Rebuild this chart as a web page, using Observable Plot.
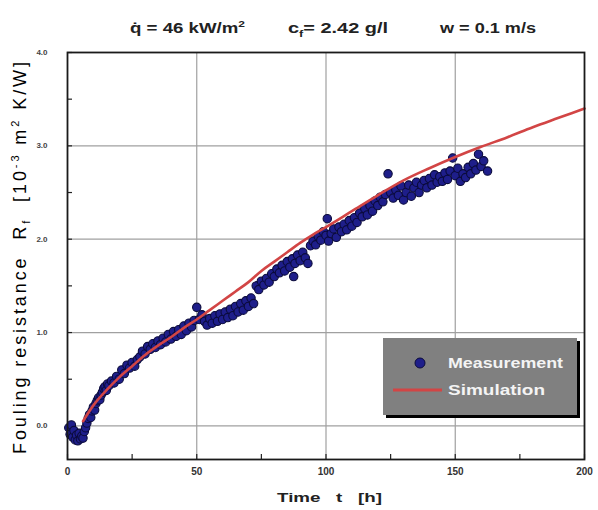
<!DOCTYPE html>
<html><head><meta charset="utf-8">
<script src="https://cdn.jsdelivr.net/npm/d3@7"></script>
<script src="https://cdn.jsdelivr.net/npm/@observablehq/plot@0.6"></script>
<style>
body{margin:0;background:#fff;}
#chart{position:relative;width:598px;height:510px;}
</style>
</head><body><div id="chart"></div>
<script>
// Measurement: time [h] and fouling resistance [10^-3 m2 K/W]
const measT = [0.5,1,1.5,2,2.5,3,3.5,4,4.5,5,5.5,6,6.5,7,7.5,8,8.5,9,9.5,10,10.5,11,11.5,12,12.5,13,13.5,14,14.5,15,15.5,16,17,18,19,20,21,22,23,24,25,26,27,28,29,30,31,32,33,34,35,36,37,38,39,40,41,42,43,44,45,46,47,48,49,50,51,52,53,54,55,56,57,58,59,60,61,62,63,64,65,66,67,68,69,70,71,72,73,74,75,76,77,78,79,80,81,82,83,84,85,86,87,87.5,88,89,90,91,92,93,94,95,96,97,98,99,100,100.5,101,102,103,104,105,106,107,108,109,110,111,112,113,114,115,116,117,118,119,120,121,122,123,124,125,126,127,128,129,130,131,132,133,134,135,136,137,138,139,140,141,142,143,144,145,146,147,148,149,150,151,152,153,154,155,156,157,158,159,160,161,162.5];
const measR = [-0.02,-0.09,0.01,-0.12,-0.05,-0.15,-0.1,-0.16,-0.08,-0.14,-0.11,-0.13,-0.06,-0.02,0.03,0.08,0.12,0.09,0.16,0.2,0.17,0.24,0.27,0.3,0.28,0.33,0.36,0.4,0.42,0.38,0.45,0.43,0.48,0.46,0.53,0.5,0.6,0.56,0.65,0.62,0.68,0.64,0.71,0.74,0.8,0.77,0.85,0.82,0.88,0.84,0.91,0.87,0.94,0.9,0.98,0.93,1.01,0.96,1.03,0.98,1.07,1.02,1.1,1.06,1.13,1.27,1.14,1.19,1.12,1.08,1.15,1.1,1.18,1.12,1.2,1.14,1.22,1.16,1.25,1.18,1.28,1.22,1.31,1.24,1.34,1.28,1.37,1.31,1.5,1.46,1.55,1.51,1.58,1.54,1.63,1.6,1.68,1.64,1.72,1.66,1.76,1.7,1.79,1.6,1.74,1.83,1.77,1.86,1.8,1.74,1.93,1.98,1.94,2.03,1.99,2.08,2.04,2.22,1.98,2.06,2.11,2.02,2.13,2.08,2.16,2.1,2.2,2.14,2.23,2.18,2.28,2.24,2.33,2.26,2.36,2.3,2.41,2.36,2.45,2.4,2.48,2.7,2.5,2.44,2.53,2.47,2.57,2.42,2.5,2.58,2.46,2.55,2.61,2.5,2.58,2.63,2.55,2.65,2.58,2.69,2.61,2.67,2.62,2.71,2.64,2.73,2.87,2.68,2.76,2.62,2.7,2.66,2.77,2.7,2.81,2.74,2.91,2.78,2.84,2.73];
// Simulation curve
const simT = [6,10,15,20,25,30,35,40,45,50,55,60,65,70,75,80,85,90,95,100,110,120,130,140,150,160,170,180,190,200];
const simR = [0.05,0.22,0.38,0.52,0.64,0.76,0.86,0.95,1.05,1.14,1.24,1.34,1.44,1.54,1.66,1.76,1.86,1.96,2.05,2.13,2.3,2.47,2.63,2.76,2.88,2.99,3.09,3.2,3.3,3.4];
// Axis ticks
const xTicks = [0,50,100,150,200];
const xMinor = [0,25,50,75,100,125,150,175,200];
const yTicks = [0,1,2,3,4];
const yMinor = [0,0.5,1,1.5,2,2.5,3,3.5,4];

const meas = measT.map((t,i)=>({t, r: measR[i]}));
const sim = simT.map((t,i)=>({t, r: simR[i]}));

const plot = Plot.plot({
  width: 598, height: 510,
  marginLeft: 67, marginRight: 14, marginTop: 52, marginBottom: 51,
  x: {domain:[0,200], label:null},
  y: {domain:[-0.36,4], label:null},
  style: {fontFamily: "'Liberation Sans', Arial, sans-serif", background:"#fff", color:"#222"},
  marks: [
    Plot.gridX(xTicks.slice(1,-1), {stroke:"#a0a0a0", strokeOpacity:1, strokeWidth:1.2}),
    Plot.gridY(yTicks.slice(0,-1), {stroke:"#a0a0a0", strokeOpacity:1, strokeWidth:1.2}),
    Plot.axisX({ticks: xMinor, tickSize:-5, text:null, stroke:"#222", strokeWidth:1.2}),
    Plot.axisY({ticks: yMinor, tickSize:-5, text:null, stroke:"#222", strokeWidth:1.2}),
    Plot.dot(meas, {x:"t", y:"r", r:4.2, fill:"#1e1e8a", stroke:"#0b0b3c", strokeWidth:1.1}),
    Plot.line(sim, {x:"t", y:"r", stroke:"#d24545", strokeWidth:2.6, curve:"monotone-x"}),
    Plot.frame({stroke:"#1a1a1a", strokeWidth:1.8}),
    Plot.axisX({ticks: xTicks, tickSize:0, tickPadding:8, fontSize:10, fontWeight:"bold", fill:"#333", tickFormat: d=>String(d)}),
    Plot.axisY({ticks: yTicks, tickSize:0, tickPadding:20, fontSize:8, fontWeight:"bold", fill:"#444", tickFormat: d=>d.toFixed(1)})
  ]
});
document.getElementById("chart").appendChild(plot);

const svg = d3.select(plot);
const F = "'Liberation Sans', Arial, sans-serif";
function addText(x, y, parts, opts){
  const t = svg.append("text").attr("x", x).attr("y", y)
    .attr("font-family", F).attr("font-size", opts.size).attr("font-weight", opts.weight||"bold")
    .attr("fill", opts.fill||"#222").attr("text-anchor", opts.rotate ? "middle" : "start");
  if (opts.len) t.attr("textLength", opts.len).attr("lengthAdjust", opts.adjust || "spacingAndGlyphs");
  if (opts.rotate) t.attr("transform", `rotate(-90 ${x} ${y})`);
  parts.forEach(p=>{
    const s = t.append("tspan").text(p.s);
    if (p.dy) s.attr("dy", p.dy);
    if (p.fs) s.attr("font-size", p.fs);
  });
  return t;
}
// Title parameters
addText(130, 33, [{s:"q\u0307 = 46 kW/m"},{s:"2",dy:-6,fs:9},{s:"",dy:6}], {size:14, len:115});
addText(288, 33, [{s:"c"},{s:"f",dy:4,fs:9},{s:"= 2.42 g/l",dy:-4}], {size:14, len:100});
addText(440, 33, [{s:"w = 0.1 m/s"}], {size:14, len:96});
// axis titles
addText(277, 502, [{s:"Time   t   [h]"}], {size:13, len:105});
addText(26, 258, [{s:"Fouling resistance  R"},{s:"f",dy:4,fs:11},{s:"  [10",dy:-4},{s:"-3",dy:-7,fs:11},{s:" m",dy:7},{s:"2",dy:-7,fs:11},{s:" K/W]",dy:7}], {size:18, weight:"normal", rotate:true, len:392, adjust:"spacing", fill:"#000"});

// Legend
const lg = svg.append("g");
lg.append("rect").attr("x",386).attr("y",341).attr("width",194).attr("height",77).attr("fill","#000");
lg.append("rect").attr("x",383).attr("y",338).attr("width",194).attr("height",77).attr("fill","#808080");
lg.append("circle").attr("cx",420).attr("cy",363).attr("r",5).attr("fill","#1e1e8a").attr("stroke","#0b0b3c");
lg.append("line").attr("x1",393).attr("x2",442).attr("y1",390).attr("y2",390).attr("stroke","#d24545").attr("stroke-width",3);
addText(448, 368, [{s:"Measurement"}], {size:15, fill:"#f4f4f4", len:115});
addText(448, 395, [{s:"Simulation"}], {size:15, fill:"#f4f4f4", len:97});
</script>
</body></html>
